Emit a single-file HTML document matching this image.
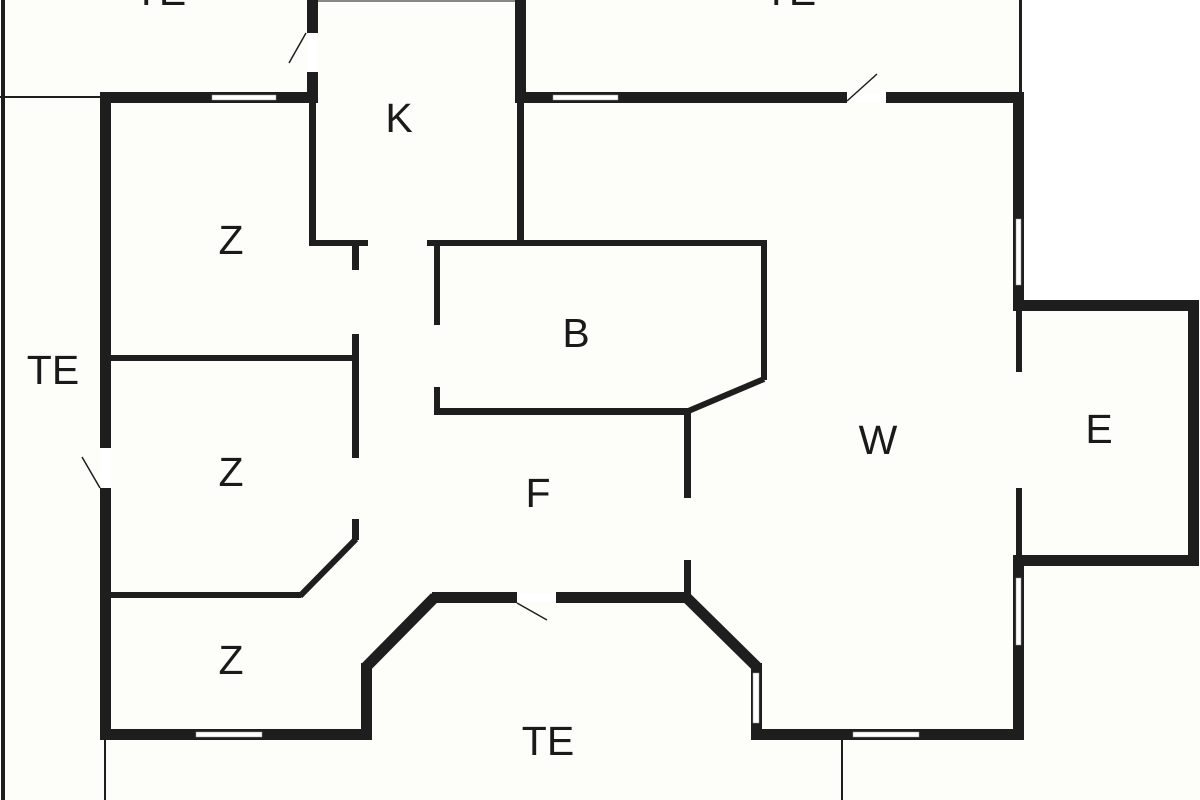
<!DOCTYPE html>
<html><head><meta charset="utf-8"><style>
html,body{margin:0;padding:0;background:#fdfdf9;}
svg{display:block}
text{font-family:"Liberation Sans",sans-serif;font-size:41px;fill:#1a1a1a;text-anchor:middle}
</style></head><body>
<svg width="1200" height="800" viewBox="0 0 1200 800" xmlns="http://www.w3.org/2000/svg">
<rect width="1200" height="800" fill="#fdfdf9"/>
<rect x="1022" y="0" width="178" height="300" fill="#ffffff"/>
<g fill="#1e1e1e">
<rect x="1" y="0" width="4" height="800"/>
<rect x="0" y="96" width="102" height="2"/>
<rect x="318" y="0" width="198" height="2" fill="#888"/>
<rect x="1019" y="0" width="3" height="93"/>
<rect x="104" y="740" width="2" height="60"/>
<rect x="841" y="740" width="2" height="60"/>
<rect x="100" y="92" width="11" height="356"/>
<rect x="100" y="488" width="11" height="252"/>
<rect x="100" y="92" width="218" height="11"/>
<rect x="307" y="0" width="11" height="33"/>
<rect x="307" y="72" width="11" height="31"/>
<rect x="515" y="0" width="11" height="103"/>
<rect x="515" y="92" width="332" height="11"/>
<rect x="886" y="92" width="138" height="11"/>
<rect x="1013" y="92" width="11" height="219"/>
<rect x="1013" y="555" width="11" height="185"/>
<rect x="1013" y="300" width="186" height="11"/>
<rect x="1188" y="300" width="11" height="266"/>
<rect x="1013" y="555" width="186" height="11"/>
<rect x="1016" y="311" width="6" height="61"/>
<rect x="1016" y="488" width="6" height="67"/>
<rect x="309" y="103" width="7" height="143"/>
<rect x="309" y="240" width="59" height="6"/>
<rect x="352" y="240" width="7" height="30"/>
<rect x="517" y="103" width="7" height="140"/>
<rect x="427" y="240" width="340" height="6"/>
<rect x="761" y="240" width="6" height="140"/>
<rect x="434" y="240" width="6" height="85"/>
<rect x="434" y="387" width="6" height="28"/>
<rect x="434" y="408" width="254" height="7"/>
<rect x="684" y="412" width="7" height="86"/>
<rect x="684" y="560" width="7" height="36"/>
<rect x="111" y="355" width="248" height="6"/>
<rect x="352" y="334" width="7" height="124"/>
<rect x="352" y="519" width="7" height="21"/>
<rect x="111" y="592" width="190" height="6"/>
<rect x="432" y="592" width="85" height="11"/>
<rect x="556" y="592" width="132" height="11"/>
<rect x="361" y="663" width="11" height="77"/>
<rect x="100" y="729" width="272" height="11"/>
<rect x="751" y="663" width="11" height="77"/>
<rect x="751" y="729" width="273" height="11"/>
</g>
<g fill="#ffffff">
<rect x="308" y="33" width="9" height="39"/>
<rect x="847" y="93" width="39" height="9"/>
<rect x="101" y="448" width="9" height="40"/>
<rect x="517" y="593" width="39" height="9"/>
</g>
<g stroke="#1e1e1e" fill="none" stroke-linecap="butt">
<line x1="764" y1="379" x2="686" y2="412" stroke-width="6"/>
<line x1="356" y1="539" x2="300" y2="596" stroke-width="6"/>
<line x1="435" y1="597" x2="366" y2="667" stroke-width="11"/>
<line x1="686" y1="597" x2="757" y2="667" stroke-width="11"/>
<line x1="289" y1="63" x2="306" y2="33" stroke-width="1.5"/>
<line x1="847" y1="101" x2="877" y2="74" stroke-width="1.5"/>
<line x1="82" y1="457" x2="100" y2="488" stroke-width="1.5"/>
<line x1="517" y1="603" x2="547" y2="620" stroke-width="1.5"/>
</g>
<g fill="#ffffff" stroke="#999" stroke-width="0.5">
<rect x="212" y="95" width="64" height="5"/>
<rect x="553" y="95" width="65" height="5"/>
<rect x="1016" y="219" width="5" height="66"/>
<rect x="1016" y="578" width="5" height="67"/>
<rect x="196" y="732" width="66" height="5"/>
<rect x="853" y="732" width="66" height="5"/>
<rect x="753" y="673" width="6" height="50"/>
</g>
<text x="160" y="5">TE</text>
<text x="790" y="5">TE</text>
<text x="399" y="132">K</text>
<text x="231" y="254">Z</text>
<text x="53" y="384">TE</text>
<text x="576" y="347">B</text>
<text x="231" y="486">Z</text>
<text x="538" y="507">F</text>
<text x="878" y="454">W</text>
<text x="1099" y="443">E</text>
<text x="231" y="674">Z</text>
<text x="548" y="755">TE</text>
</svg>
</body></html>
